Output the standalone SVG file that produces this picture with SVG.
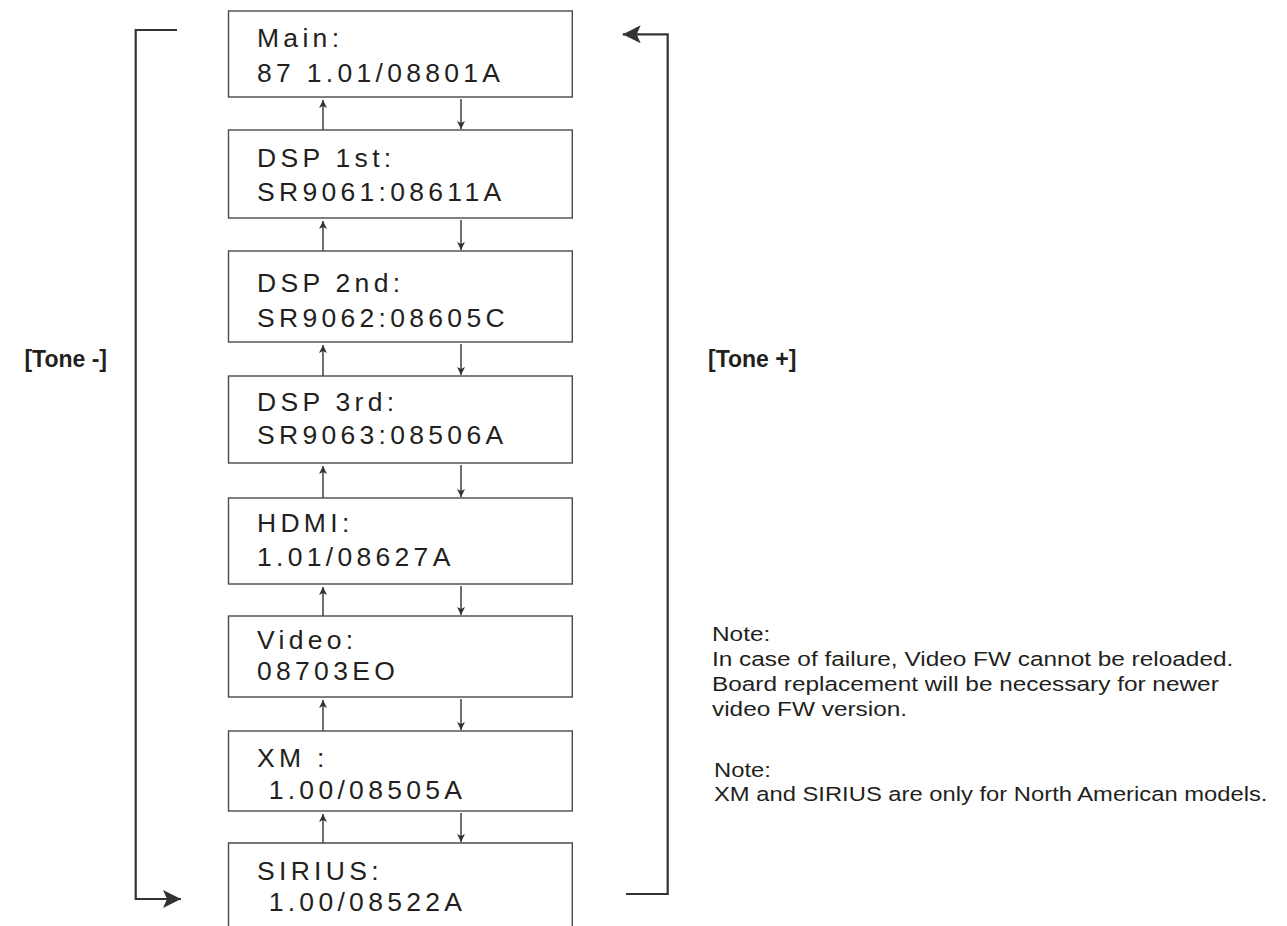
<svg xmlns="http://www.w3.org/2000/svg" width="1287" height="926" viewBox="0 0 1287 926">
<style>
.box{fill:#fff;stroke:#4a4a4a;stroke-width:1.4}
.bt{font-family:"Liberation Sans",Arial,sans-serif;font-size:26.5px;letter-spacing:4.3px;fill:#231f20}
.con{fill:none;stroke:#333;stroke-width:1.4}
.br{fill:none;stroke:#333;stroke-width:2.2}
.tone{font-family:"Liberation Sans",Arial,sans-serif;font-size:23px;font-weight:bold;fill:#231f20}
.note{font-family:"Liberation Sans",Arial,sans-serif;font-size:20.5px;fill:#231f20}
</style>
<defs>
<marker id="sm" viewBox="0 0 8 8" refX="8" refY="4" markerWidth="8" markerHeight="8" markerUnits="userSpaceOnUse" orient="auto"><path d="M0,0 L8,4 L0,8 L2,4 Z" fill="#333"/></marker>
<marker id="big" viewBox="0 0 18 18" refX="18" refY="9" markerWidth="18" markerHeight="18" markerUnits="userSpaceOnUse" orient="auto"><path d="M0,0 L18,9 L0,18 L4,9 Z" fill="#333"/></marker>
</defs>
<rect width="1287" height="926" fill="#fff"/>
<g id="connectors">
<line class="con" x1="323" y1="130" x2="323" y2="100" marker-end="url(#sm)"/>
<line class="con" x1="461" y1="99" x2="461" y2="129" marker-end="url(#sm)"/>
<line class="con" x1="323" y1="251" x2="323" y2="221" marker-end="url(#sm)"/>
<line class="con" x1="461" y1="220" x2="461" y2="250" marker-end="url(#sm)"/>
<line class="con" x1="323" y1="376" x2="323" y2="345" marker-end="url(#sm)"/>
<line class="con" x1="461" y1="344" x2="461" y2="375" marker-end="url(#sm)"/>
<line class="con" x1="323" y1="498" x2="323" y2="466" marker-end="url(#sm)"/>
<line class="con" x1="461" y1="465" x2="461" y2="497" marker-end="url(#sm)"/>
<line class="con" x1="323" y1="616" x2="323" y2="587" marker-end="url(#sm)"/>
<line class="con" x1="461" y1="586" x2="461" y2="615" marker-end="url(#sm)"/>
<line class="con" x1="323" y1="731" x2="323" y2="700" marker-end="url(#sm)"/>
<line class="con" x1="461" y1="699" x2="461" y2="730" marker-end="url(#sm)"/>
<line class="con" x1="323" y1="843" x2="323" y2="814" marker-end="url(#sm)"/>
<line class="con" x1="461" y1="813" x2="461" y2="842" marker-end="url(#sm)"/>
<polyline class="br" points="177,30 135.7,30 135.7,899 181,899" marker-end="url(#big)"/>
<polyline class="br" points="626,894 667.7,894 667.7,34.3 622.7,34.3" marker-end="url(#big)"/>
</g>
<g id="main"><rect class="box" x="228.5" y="11" width="343.8" height="86"/>
<text class="bt" x="257" y="47">Main:</text><text class="bt" x="257" y="82">87 1.01/08801A</text></g>
<g id="dsp1"><rect class="box" x="228.5" y="130" width="343.8" height="88"/>
<text class="bt" x="257" y="167">DSP 1st:</text><text class="bt" x="257" y="201">SR9061:08611A</text></g>
<g id="dsp2"><rect class="box" x="228.5" y="251" width="343.8" height="91"/>
<text class="bt" x="257" y="292">DSP 2nd:</text><text class="bt" x="257" y="327">SR9062:08605C</text></g>
<g id="dsp3"><rect class="box" x="228.5" y="376" width="343.8" height="87"/>
<text class="bt" x="257" y="411">DSP 3rd:</text><text class="bt" x="257" y="444">SR9063:08506A</text></g>
<g id="hdmi"><rect class="box" x="228.5" y="498" width="343.8" height="86"/>
<text class="bt" x="257" y="532">HDMI:</text><text class="bt" x="257" y="566">1.01/08627A</text></g>
<g id="video"><rect class="box" x="228.5" y="616" width="343.8" height="81"/>
<text class="bt" x="257" y="649">Video:</text><text class="bt" x="257" y="680">08703EO</text></g>
<g id="xm"><rect class="box" x="228.5" y="731" width="343.8" height="80"/>
<text class="bt" x="257" y="767">XM  :</text><text class="bt" x="257" y="799" xml:space="preserve"> 1.00/08505A</text></g>
<g id="sirius"><path class="box" d="M228.5,927 V843 H572.3 V927"/>
<text class="bt" x="257" y="880">SIRIUS:</text><text class="bt" x="257" y="911" xml:space="preserve"> 1.00/08522A</text></g>
<g id="tone-minus"><text class="tone" x="107" y="367" text-anchor="end">[Tone -]</text></g>
<g id="tone-plus"><text class="tone" x="708" y="367">[Tone +]</text></g>
<g id="note1" transform="translate(712,0) scale(1.19,1)">
<text class="note" x="0" y="641">Note:</text>
<text class="note" x="0" y="666">In case of failure, Video FW cannot be reloaded.</text>
<text class="note" x="0" y="691">Board replacement will be necessary for newer</text>
<text class="note" x="0" y="716">video FW version.</text>
</g>
<g id="note2" transform="translate(714,0) scale(1.16,1)">
<text class="note" x="0" y="777">Note:</text>
<text class="note" x="0" y="801">XM and SIRIUS are only for North American models.</text>
</g>
</svg>
